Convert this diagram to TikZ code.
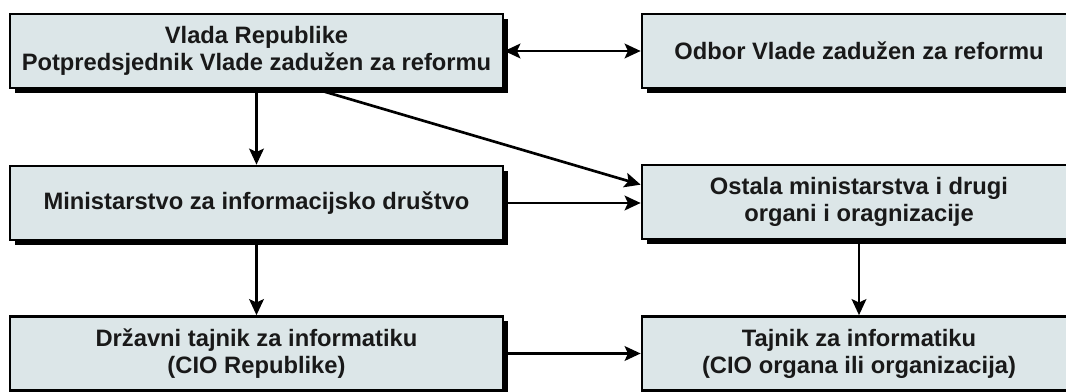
\documentclass[tikz,border=0pt]{standalone}
\usepackage{fontspec}
\setmainfont{Liberation Sans}
\usetikzlibrary{arrows.meta,shadows}
\definecolor{boxfill}{RGB}{220,230,232}
\tikzset{
	orgbox/.style={draw=black, line width=2pt, fill=boxfill, rectangle, inner sep=0pt, align=center,
		font=\fontsize{17.8}{20.25}\selectfont\bfseries, text=black!90,
		drop shadow={shadow xshift=3.5pt, shadow yshift=-3.5pt, fill=black, opacity=1}},
	leftbox/.style={orgbox, minimum width=369.75pt, minimum height=55.5pt},
	rightbox/.style={orgbox, minimum width=325.5pt, minimum height=55.5pt},
	link/.style={line width=2pt, -{Stealth[length=12pt,width=11pt,inset=2.5pt]}},
	twolink/.style={line width=2pt, {Stealth[length=12pt,width=11pt,inset=2.5pt]}-{Stealth[length=12pt,width=11pt,inset=2.5pt]}}
}
\begin{document}
\begin{tikzpicture}[x=0.75pt,y=-0.75pt]
			\useasboundingbox (0,0) rectangle (1066,392);
			
			%Left column
			\node[leftbox] (vlada) at (256.5,51) {Vlada Republike\\Potpredsjednik Vlade zadužen za reformu};
			\node[leftbox] (ministarstvo) at (256.5,203) {Ministarstvo za informacijsko društvo};
			\node[leftbox] (tajnikrep) at (256.5,353.5) {Državni tajnik za informatiku\\(CIO Republike)};
			
			%Right column
			\node[rightbox] (odbor) at (859,51) {Odbor Vlade zadužen za reformu};
			\node[rightbox] (ostala) at (859,202) {Ostala ministarstva i drugi\\organi i oragnizacije};
			\node[rightbox] (tajnikorg) at (859,353.5) {Tajnik za informatiku\\(CIO organa ili organizacija)};
			
			%Arrows
			\draw[twolink] (vlada) -- (odbor);
			\draw[link] (vlada) -- (ministarstvo);
			\draw[link] ([xshift=45pt]vlada.south) -- ([yshift=13pt]ostala.west);
			\draw[link] (ministarstvo.east) -- (ministarstvo.east -| ostala.west);
			\draw[link] (ministarstvo) -- (tajnikrep);
			\draw[link] (ostala) -- (tajnikorg);
			\draw[link] (tajnikrep) -- (tajnikorg);
		\end{tikzpicture}
\end{document}
